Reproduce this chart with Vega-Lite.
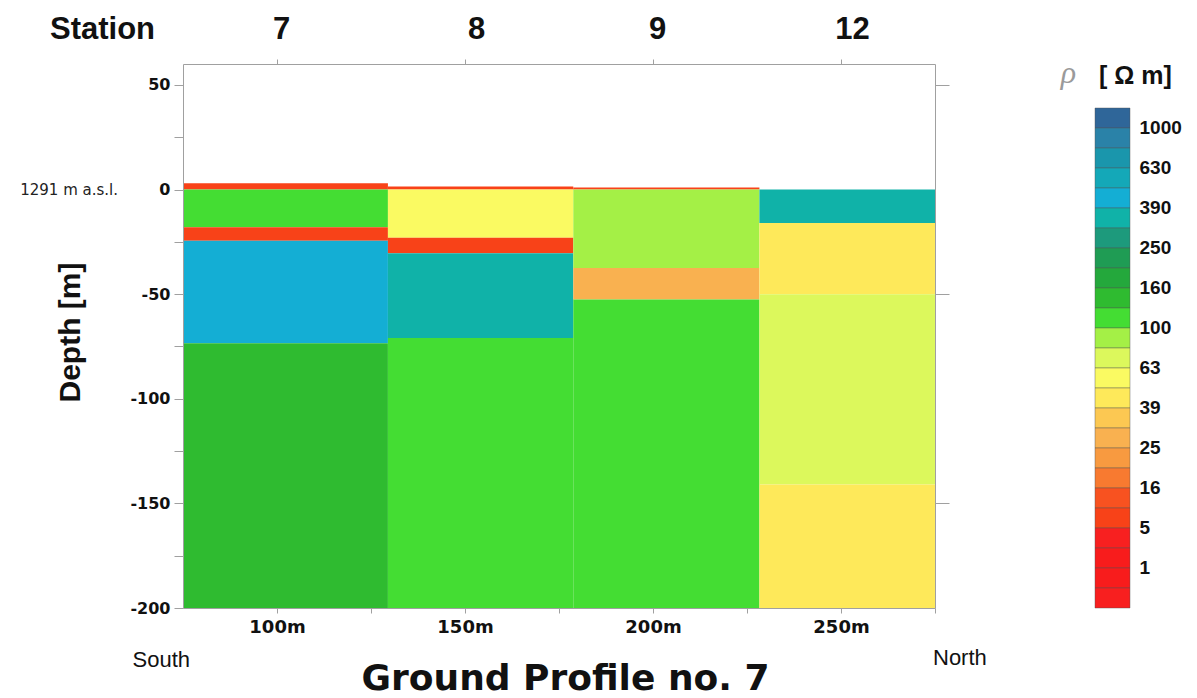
{
  "$schema": "https://vega.github.io/schema/vega-lite/v6.json",
  "background": "white",
  "padding": {"left": 20, "top": 13, "right": 5, "bottom": 0},
  "bounds": "flush",
  "spacing": 160,
  "config": {"view": {"stroke": null}, "font": "Liberation Sans"},
  "hconcat": [
    {
      "width": 752,
      "height": 544,
      "layer": [
        {
          "data": {
            "values": [
              {"station": 7, "from_m": 75, "to_m": 129.5, "top_m": 3, "base_m": 0, "rho": 8},
              {"station": 7, "from_m": 75, "to_m": 129.5, "top_m": 0, "base_m": -18, "rho": 110},
              {"station": 7, "from_m": 75, "to_m": 129.5, "top_m": -18, "base_m": -24.5, "rho": 8},
              {"station": 7, "from_m": 75, "to_m": 129.5, "top_m": -24.5, "base_m": -73.5, "rho": 450},
              {"station": 7, "from_m": 75, "to_m": 129.5, "top_m": -73.5, "base_m": -200, "rho": 140},
              {"station": 8, "from_m": 129.5, "to_m": 178.8, "top_m": 1.5, "base_m": 0, "rho": 8},
              {"station": 8, "from_m": 129.5, "to_m": 178.8, "top_m": 0, "base_m": -23, "rho": 55},
              {"station": 8, "from_m": 129.5, "to_m": 178.8, "top_m": -23, "base_m": -30.5, "rho": 8},
              {"station": 8, "from_m": 129.5, "to_m": 178.8, "top_m": -30.5, "base_m": -71, "rho": 350},
              {"station": 8, "from_m": 129.5, "to_m": 178.8, "top_m": -71, "base_m": -200, "rho": 110},
              {"station": 9, "from_m": 178.8, "to_m": 228.3, "top_m": 1, "base_m": 0, "rho": 8},
              {"station": 9, "from_m": 178.8, "to_m": 228.3, "top_m": 0, "base_m": -37.5, "rho": 90},
              {"station": 9, "from_m": 178.8, "to_m": 228.3, "top_m": -37.5, "base_m": -52.5, "rho": 28},
              {"station": 9, "from_m": 178.8, "to_m": 228.3, "top_m": -52.5, "base_m": -200, "rho": 110},
              {"station": 12, "from_m": 228.3, "to_m": 275, "top_m": 0, "base_m": -16, "rho": 350},
              {"station": 12, "from_m": 228.3, "to_m": 275, "top_m": -16, "base_m": -50, "rho": 45},
              {"station": 12, "from_m": 228.3, "to_m": 275, "top_m": -50, "base_m": -141, "rho": 70},
              {"station": 12, "from_m": 228.3, "to_m": 275, "top_m": -141, "base_m": -200, "rho": 45}
            ]
          },
          "mark": {"type": "rect"},
          "encoding": {
            "x": {
              "field": "from_m",
              "type": "quantitative",
              "scale": {"domain": [75, 275], "nice": false, "zero": false},
              "axis": {
                "orient": "bottom",
                "values": [100, 125, 150, 175, 200, 225, 250, 275],
                "labelExpr": "datum.value % 50 == 0 && datum.value < 275 ? datum.value + 'm' : ''",
                "labelFont": "DejaVu Sans",
                "labelFontSize": 18,
                "labelFontWeight": "bold",
                "labelColor": "#111111",
                "labelPadding": 5,
                "labelFlush": false,
                "labelOverlap": false,
                "tickSize": 5,
                "tickColor": "#a0a0a0",
                "domainColor": "#a0a0a0",
                "grid": false,
                "zindex": 1,
                "title": "Ground Profile no. 7",
                "titleFont": "DejaVu Sans",
                "titleFontSize": 36,
                "titleFontWeight": "bold",
                "titleColor": "#111111",
                "titleX": 382,
                "titleY": 81,
                "titleAlign": "center",
                "titleBaseline": "alphabetic"
              }
            },
            "x2": {"field": "to_m"},
            "y": {
              "field": "top_m",
              "type": "quantitative",
              "scale": {"domain": [-200, 60], "nice": false, "zero": false},
              "axis": {
                "orient": "left",
                "values": [-200, -175, -150, -125, -100, -75, -50, -25, 0, 25, 50],
                "labelExpr": "datum.value % 50 == 0 ? '' + datum.value : ''",
                "labelFont": "DejaVu Sans",
                "labelFontSize": 16,
                "labelFontWeight": "bold",
                "labelColor": "#111111",
                "labelPadding": 4,
                "labelOverlap": false,
                "tickSize": 9,
                "tickColor": "#a0a0a0",
                "domainColor": "#a0a0a0",
                "grid": false,
                "zindex": 1,
                "title": "Depth [m]",
                "titleFont": "Liberation Sans",
                "titleFontSize": 30,
                "titleFontWeight": "bold",
                "titleColor": "#111111",
                "titleAngle": -90,
                "titleX": -113,
                "titleY": 268,
                "titleAlign": "center",
                "titleBaseline": "middle"
              }
            },
            "y2": {"field": "base_m"},
            "color": {
              "field": "rho",
              "type": "quantitative",
              "scale": {
                "type": "threshold",
                "domain": [0.5, 1, 2.5, 5, 10, 16, 20, 25, 32, 39, 50, 63, 79, 100, 126, 160, 200, 250, 316, 390, 500, 630, 790, 1000],
                "range": ["#f81f1f", "#f81c1c", "#f81c1c", "#f82020", "#f84218", "#f85220", "#f87a30", "#f89a40", "#f9b150", "#fcc852", "#fee95a", "#fafa62", "#dcf85c", "#a4f046", "#44dd33", "#2fbb30", "#24a83c", "#1f9c54", "#1d9a7c", "#10b2a8", "#14aed4", "#14a8b8", "#1a96ac", "#2a82a8", "#2f6699"]
              },
              "legend": null
            }
          }
        },
        {
          "data": {"values": [{"pos_m": 75, "elev_m": 0, "label": "1291 m a.s.l."}]},
          "mark": {"type": "text", "align": "right", "baseline": "middle", "dx": -65, "font": "DejaVu Sans", "fontSize": 15, "color": "#222222"},
          "encoding": {
            "x": {
              "field": "pos_m",
              "type": "quantitative",
              "scale": {"domain": [75, 275], "nice": false, "zero": false},
              "axis": {
                "orient": "top",
                "values": [100, 150, 200, 250],
                "labelExpr": "datum.value == 100 ? '7' : datum.value == 150 ? '8' : datum.value == 200 ? '9' : '12'",
                "labelFont": "Liberation Sans",
                "labelFontSize": 31,
                "labelFontWeight": "bold",
                "labelColor": "#111111",
                "labelBaseline": "alphabetic",
                "labelPadding": 21,
                "labelOffset": {"condition": {"test": "datum.value == 150 || datum.value == 250", "value": 11}, "value": 4},
                "labelFlush": false,
                "labelOverlap": false,
                "tickSize": 5,
                "tickColor": "#a0a0a0",
                "domainColor": "#a0a0a0",
                "grid": false,
                "zindex": 1,
                "title": "Station",
                "titleFont": "Liberation Sans",
                "titleFontSize": 31,
                "titleFontWeight": "bold",
                "titleColor": "#111111",
                "titleAngle": 0,
                "titleX": -81,
                "titleY": -26,
                "titleAlign": "center",
                "titleBaseline": "alphabetic"
              }
            },
            "y": {
              "field": "elev_m",
              "type": "quantitative",
              "scale": {"domain": [-200, 60], "nice": false, "zero": false},
              "axis": {
                "orient": "right",
                "values": [50, -50, -150],
                "labels": false,
                "tickSize": 14,
                "tickColor": "#a0a0a0",
                "domainColor": "#a0a0a0",
                "grid": false,
                "zindex": 1,
                "title": null
              }
            },
            "text": {"field": "label"}
          }
        },
        {
          "data": {"values": [{"pos_m": 75, "label": "South"}]},
          "mark": {"type": "text", "align": "right", "baseline": "middle", "dx": 7, "dy": 52, "font": "Liberation Sans", "fontSize": 22, "color": "#111111"},
          "encoding": {
            "x": {"field": "pos_m", "type": "quantitative", "axis": null},
            "y": {"datum": -200, "type": "quantitative", "axis": null},
            "text": {"field": "label"}
          }
        },
        {
          "data": {"values": [{"pos_m": 275, "label": "North"}]},
          "mark": {"type": "text", "align": "left", "baseline": "middle", "dx": -2, "dy": 50, "font": "Liberation Sans", "fontSize": 22, "color": "#111111"},
          "encoding": {
            "x": {"field": "pos_m", "type": "quantitative", "axis": null},
            "y": {"datum": -200, "type": "quantitative", "axis": null},
            "text": {"field": "label"}
          }
        }
      ],
      "resolve": {"axis": {"x": "independent", "y": "independent"}}
    },
    {
      "width": 35,
      "height": 544,
      "title": {
        "text": "[ Ω m]",
        "frame": "group",
        "anchor": "start",
        "orient": "top",
        "offset": -45,
        "baseline": "middle",
        "dx": 4,
        "font": "Liberation Sans",
        "fontSize": 25,
        "fontWeight": "bold",
        "color": "#111111"
      },
      "data": {
        "values": [
          {"rho_lo": 1000}, {"rho_lo": 790}, {"rho_lo": 630}, {"rho_lo": 500}, {"rho_lo": 390},
          {"rho_lo": 316}, {"rho_lo": 250}, {"rho_lo": 200}, {"rho_lo": 160}, {"rho_lo": 126},
          {"rho_lo": 100}, {"rho_lo": 79}, {"rho_lo": 63}, {"rho_lo": 50}, {"rho_lo": 39},
          {"rho_lo": 32}, {"rho_lo": 25}, {"rho_lo": 20}, {"rho_lo": 16}, {"rho_lo": 10},
          {"rho_lo": 5}, {"rho_lo": 2.5}, {"rho_lo": 1}, {"rho_lo": 0.5}, {"rho_lo": 0}
        ]
      },
      "mark": {"type": "rect", "stroke": "#555555", "strokeWidth": 0.6, "strokeOpacity": 0.7},
      "encoding": {
        "y": {
          "field": "rho_lo",
          "type": "ordinal",
          "sort": "descending",
          "scale": {"range": [44, 544], "paddingInner": 0, "paddingOuter": 0},
          "axis": {
            "orient": "right",
            "values": [1000, 630, 390, 250, 160, 100, 63, 39, 25, 16, 5, 1],
            "labelOffset": 10,
            "ticks": false,
            "domain": false,
            "labelFont": "Liberation Sans",
            "labelFontSize": 19,
            "labelFontWeight": "bold",
            "labelColor": "#111111",
            "labelPadding": 9,
            "labelBaseline": "middle",
            "title": "ρ",
            "titleFont": "Liberation Serif",
            "titleFontStyle": "italic",
            "titleFontWeight": "normal",
            "titleFontSize": 32,
            "titleColor": "#9a9a9a",
            "titleAngle": 0,
            "titleX": -62,
            "titleY": 8,
            "titleAlign": "center",
            "titleBaseline": "middle"
          }
        },
        "color": {
          "field": "rho_lo",
          "type": "quantitative",
          "scale": {
            "type": "threshold",
            "domain": [0.5, 1, 2.5, 5, 10, 16, 20, 25, 32, 39, 50, 63, 79, 100, 126, 160, 200, 250, 316, 390, 500, 630, 790, 1000],
            "range": ["#f81f1f", "#f81c1c", "#f81c1c", "#f82020", "#f84218", "#f85220", "#f87a30", "#f89a40", "#f9b150", "#fcc852", "#fee95a", "#fafa62", "#dcf85c", "#a4f046", "#44dd33", "#2fbb30", "#24a83c", "#1f9c54", "#1d9a7c", "#10b2a8", "#14aed4", "#14a8b8", "#1a96ac", "#2a82a8", "#2f6699"]
          },
          "legend": null
        }
      }
    }
  ]
}
